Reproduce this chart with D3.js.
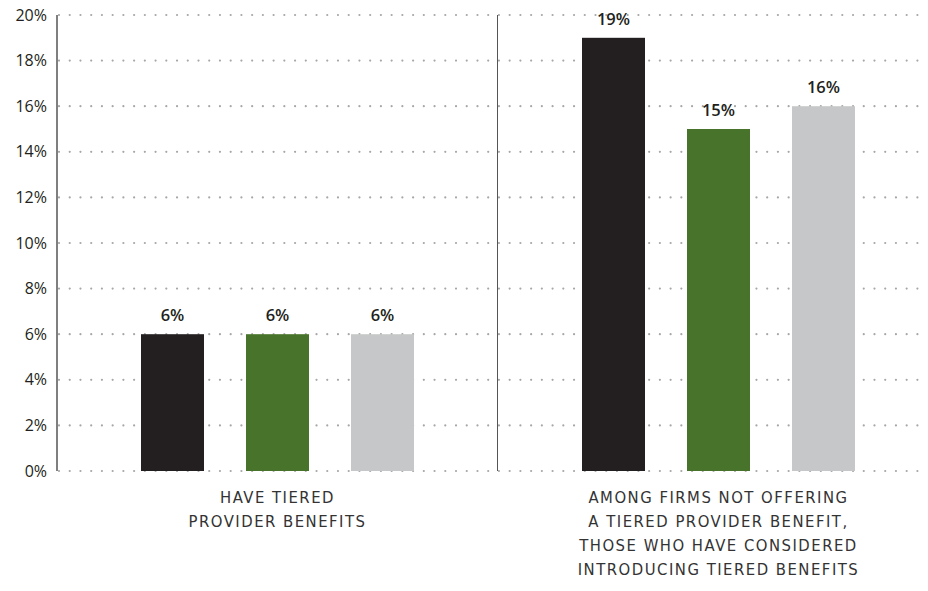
<!DOCTYPE html>
<html>
<head>
<meta charset="utf-8">
<script src="https://cdn.jsdelivr.net/npm/d3@7"></script>
<style>
  html, body { margin: 0; padding: 0; background: #fff; }
  svg { display: block; }
</style>
</head>
<body>
<svg id="chart" width="928" height="591"></svg>
<script>
// Chart data
const categories = [
  ["HAVE TIERED", "PROVIDER BENEFITS"],
  ["AMONG FIRMS NOT OFFERING", "A TIERED PROVIDER BENEFIT,", "THOSE WHO HAVE CONSIDERED", "INTRODUCING TIERED BENEFITS"]
];
const seriesNames = ["Series A", "Series B", "Series C"];
const seriesA = [6, 19];
const seriesB = [6, 15];
const seriesC = [6, 16];
const yTicks = [0, 2, 4, 6, 8, 10, 12, 14, 16, 18, 20];

const colors = ["#231f20", "#47732a", "#c6c7c8"];
const seriesValues = [seriesA, seriesB, seriesC];

const svg = d3.select("#chart");
const plotLeft = 57, plotTop = 15, plotBottom = 471;
const bandW = 441;

const y = d3.scaleLinear().domain([0, 20]).range([plotBottom, plotTop]);
const x0 = d3.scaleBand().domain(d3.range(categories.length))
  .range([plotLeft, plotLeft + bandW * categories.length]);
const x1 = d3.scaleBand().domain(d3.range(seriesNames.length))
  .range([0, x0.bandwidth()]).paddingInner(0.4).paddingOuter(0.8);

// Dotted gridlines
svg.append("g").selectAll("line").data(yTicks).join("line")
  .attr("x1", plotLeft + 2).attr("x2", 928)
  .attr("y1", d => y(d)).attr("y2", d => y(d))
  .attr("stroke", "#a7a7a7").attr("stroke-width", 2.2)
  .attr("stroke-linecap", "round")
  .attr("stroke-dasharray", "0.01,10.72");

// Y axis labels
const yAxis = d3.axisLeft(y).tickValues(yTicks).tickFormat(d => d + "%").tickSize(0).tickPadding(10);
const gy = svg.append("g").attr("transform", `translate(${plotLeft},0)`).call(yAxis);
gy.select(".domain").remove();
gy.selectAll("text")
  .attr("font-family", "'Open Sans', 'Noto Sans', sans-serif")
  .attr("font-size", 16).attr("fill", "#231f20");

// Bars
const groups = svg.append("g").selectAll("g").data(categories).join("g")
  .attr("transform", (d, i) => `translate(${x0(i)},0)`);

groups.selectAll("rect").data((d, i) => seriesValues.map((s, k) => ({ k, v: s[i] })))
  .join("rect")
  .attr("x", d => x1(d.k)).attr("width", x1.bandwidth())
  .attr("y", d => y(d.v)).attr("height", d => y(0) - y(d.v))
  .attr("fill", d => colors[d.k]);

groups.selectAll("text.val").data((d, i) => seriesValues.map((s, k) => ({ k, v: s[i] })))
  .join("text").attr("class", "val")
  .attr("x", d => x1(d.k) + x1.bandwidth() / 2)
  .attr("y", d => y(d.v) - 13)
  .attr("text-anchor", "middle")
  .attr("font-family", "'Open Sans', 'Noto Sans', sans-serif")
  .attr("font-weight", 600).attr("font-size", 16.5)
  .attr("fill", "#231f20")
  .text(d => d.v + "%");

// Category labels
groups.append("text")
  .attr("text-anchor", "middle")
  .attr("font-family", "'Liberation Sans Narrow', 'DejaVu Sans Condensed', sans-serif")
  .attr("font-size", 16.5).attr("letter-spacing", 1.5).attr("fill", "#333")
  .selectAll("tspan").data(d => d).join("tspan")
  .attr("x", x0.bandwidth() / 2)
  .attr("y", (d, i) => 503 + i * 24)
  .text(d => d);

// Axis line and group divider
svg.append("line").attr("x1", plotLeft).attr("x2", plotLeft).attr("y1", plotTop).attr("y2", plotBottom)
  .attr("stroke", "#555").attr("stroke-width", 1.5);
svg.append("line").attr("x1", x0(1) - 0.5).attr("x2", x0(1) - 0.5).attr("y1", plotTop).attr("y2", plotBottom)
  .attr("stroke", "#555").attr("stroke-width", 1);
</script>
</body>
</html>
